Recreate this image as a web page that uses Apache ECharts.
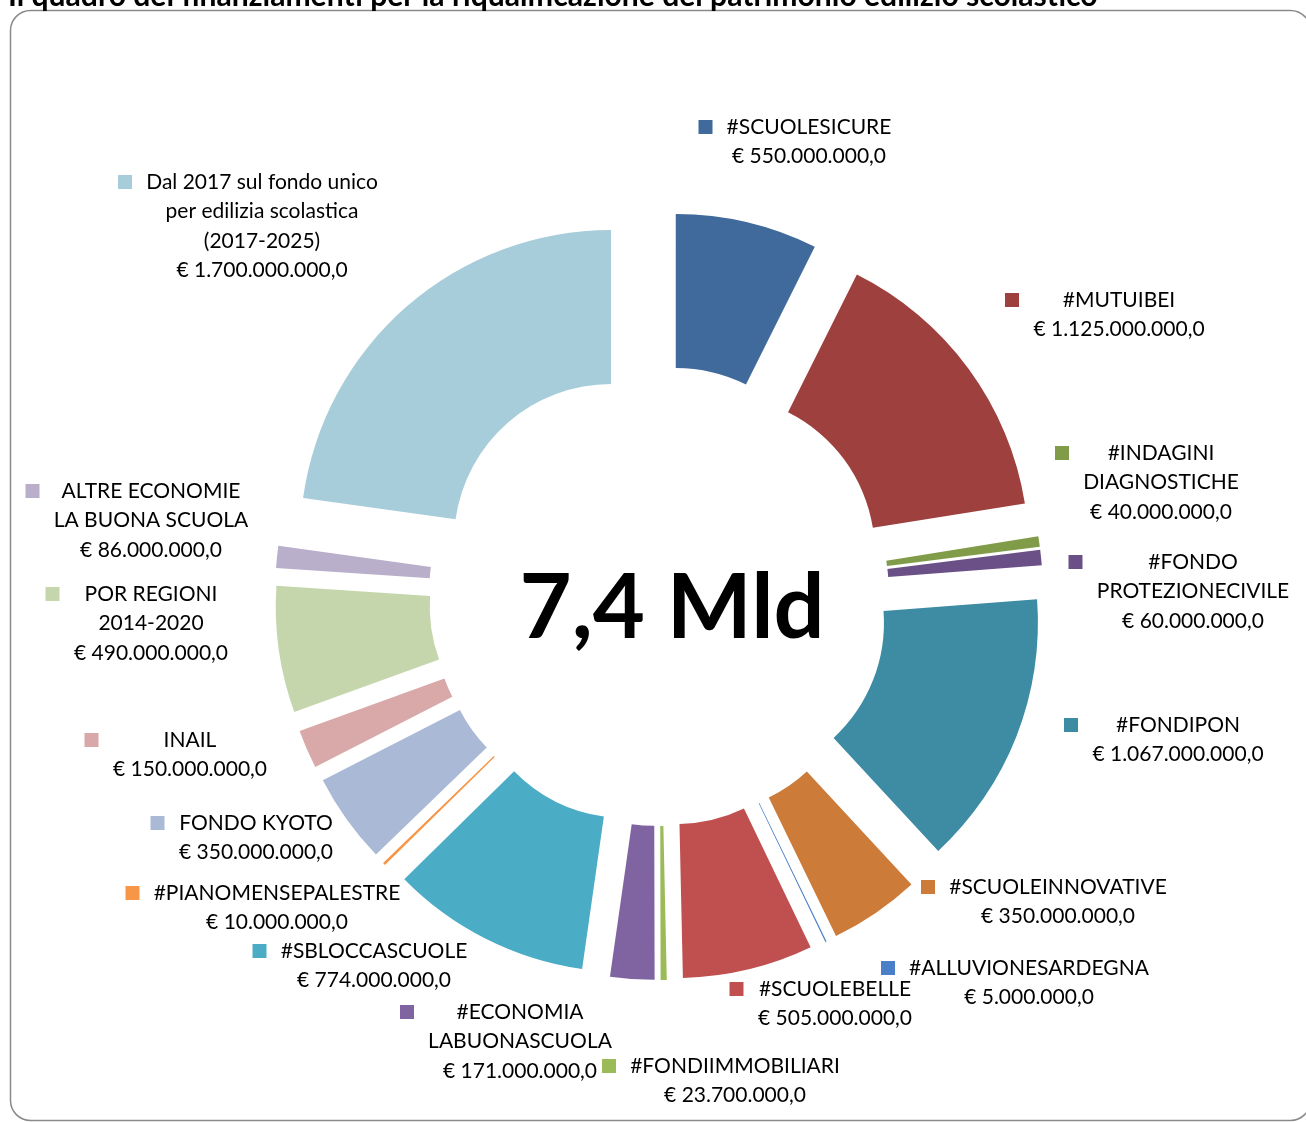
<!DOCTYPE html>
<html><head><meta charset="utf-8">
<script src="https://cdn.jsdelivr.net/npm/echarts@6/dist/echarts.min.js"></script>
<style>html,body{margin:0;padding:0;background:#fff}#c{width:1306px;height:1122px}</style>
</head><body><div id="c"></div>
<script>
// ---- data ----
const categories = [
  '#SCUOLESICURE',
  '#MUTUIBEI',
  '#INDAGINI\nDIAGNOSTICHE',
  '#FONDO\nPROTEZIONECIVILE',
  '#FONDIPON',
  '#SCUOLEINNOVATIVE',
  '#ALLUVIONESARDEGNA',
  '#SCUOLEBELLE',
  '#FONDIIMMOBILIARI',
  '#ECONOMIA\nLABUONASCUOLA',
  '#SBLOCCASCUOLE',
  '#PIANOMENSEPALESTRE',
  'FONDO KYOTO',
  'INAIL',
  'POR REGIONI\n2014-2020',
  'ALTRE ECONOMIE\nLA BUONA SCUOLA',
  'Dal 2017 sul fondo unico\nper edilizia scolastica\n(2017-2025)'
];
// values in millions of euro
const valuesMln = [550, 1125, 40, 60, 1067, 350, 5, 505, 23.7, 171, 774, 10, 350, 150, 490, 86, 1700];
const colors = ['#3F6A9B','#9E403E','#809C48','#6A5087','#3D8CA3','#CC7B39','#4A7EC8','#C0504F','#9BBB59','#8064A2','#4BACC6','#F79646','#AAB9D6','#D9A9A9','#C6D6AC','#B9AFCA','#A8CDDA'];
const totalLabel = '7,4 Mld';
const titleText = 'Il quadro dei finanziamenti per la riqualificazione del patrimonio edilizio scolastico';

// ---- layout (label block centre x, first line centre y) ----
const labelAnchors = [
  [809,127],[1119,300],[1161,453],[1193,562],[1178,725],[1058,887],[1029,968],
  [835,989],[735,1066],[520,1012],[374,951],[277,893],[256,823],[190,740],
  [151,594],[151,491],[262,182]
];
const FONT = 'Lato';
const FS = 21;
const LH = 29.5;
const SQ = 14, GAP = 13;

const ctx = document.createElement('canvas').getContext('2d');
ctx.font = FS + 'px ' + FONT;
const tw = s => ctx.measureText(s).width;
function fmt(v){
  const n = Math.round(v * 1e6);
  return '€ ' + String(n).replace(/\B(?=(\d{3})+(?!\d))/g, '.') + ',0';
}

const blockW = [];
const sliceData = categories.map((name, i) => ({
  name: name.replace(/\n/g, ' '),
  value: valuesMln[i],
  selected: true,
  itemStyle: { color: colors[i] }
}));
const labelData = categories.map((name, i) => {
  const lines = name.split('\n').concat([fmt(valuesMln[i])]);
  const W = Math.ceil(Math.max(...lines.map(tw))) + 2;
  blockW.push(W);
  const text = lines.map((l, k) => (k === 0 ? '{sq|}{g|}' : '{p|}') + '{t|' + l + '}').join('\n');
  return {
    name: name.replace(/\n/g, ' '),
    value: valuesMln[i],
    itemStyle: { color: 'rgba(0,0,0,0)' },
    label: {
      formatter: text,
      rich: {
        sq: { width: SQ, height: SQ, backgroundColor: colors[i], verticalAlign: 'middle', lineHeight: LH },
        g: { width: GAP, lineHeight: LH },
        p: { width: SQ + GAP, lineHeight: LH },
        t: { width: W, align: 'center', fontSize: FS, fontFamily: FONT, color: '#000', lineHeight: LH, verticalAlign: 'middle' }
      }
    }
  };
});

const chart = echarts.init(document.getElementById('c'), null, { renderer: 'canvas' });

const tctx = document.createElement('canvas').getContext('2d');
tctx.font = 'bold 24px Lato';
const titleFS = 24 * 1090 / tctx.measureText(titleText).width;

const pieBase = {
  type: 'pie',
  center: [659, 596],
  radius: [157, 311],
  startAngle: 90,
  clockwise: true,
  minAngle: 0,
  avoidLabelOverlap: false,
  emphasis: { disabled: true }
};

chart.setOption({
  animation: false,
  backgroundColor: '#fff',
  graphic: [
    { type: 'rect', z: 0, shape: { x: 10.5, y: 10.5, width: 1300, height: 1110, r: 20 },
      style: { fill: 'none', stroke: '#8a8a8a', lineWidth: 1.5 } },
    { type: 'text', z: 10, x: 8, y: 11, style: { text: titleText, font: 'bold ' + titleFS.toFixed(1) + 'px Lato', fill: '#000', align: 'left', verticalAlign: 'bottom' } },
    { type: 'text', z: 10, x: 672, y: 609, style: { text: totalLabel, font: 'bold 90px Lato', fill: '#000', align: 'center', verticalAlign: 'middle' } }
  ],
  series: [
    Object.assign({}, pieBase, {
      name: 'slices',
      selectedMode: 'multiple',
      selectedOffset: 73,
      itemStyle: { borderWidth: 0 },
      select: { itemStyle: { borderWidth: 0 } },
      label: { show: false },
      labelLine: { show: false },
      data: sliceData
    }),
    Object.assign({}, pieBase, {
      name: 'labels',
      silent: true,
      selectedMode: false,
      z: 3,
      itemStyle: { borderWidth: 0, color: 'rgba(0,0,0,0)' },
      label: { show: true, position: 'outside' },
      labelLine: { show: false },
      labelLayout: function (p) {
        const i = p.dataIndex;
        const a = labelAnchors[i];
        return { x: a[0] - blockW[i] / 2 - SQ - GAP, y: a[1] - LH / 2, align: 'left', verticalAlign: 'top' };
      },
      data: labelData
    })
  ]
});
</script>
</body></html>
